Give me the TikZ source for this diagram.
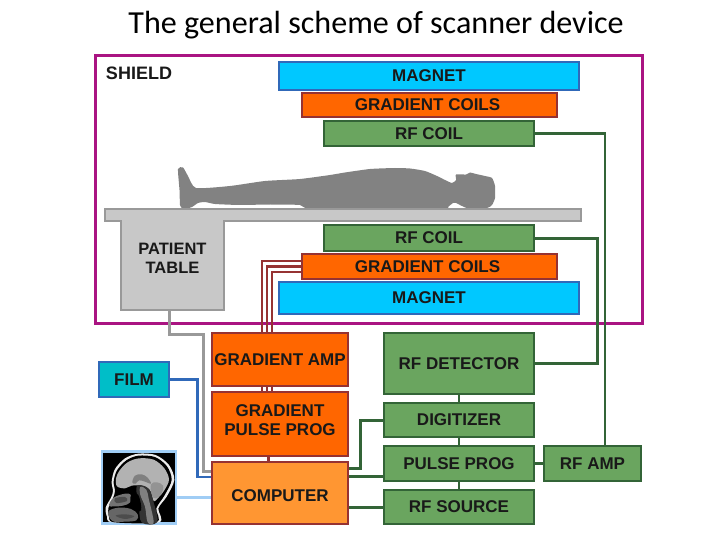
\documentclass[tikz,border=0pt]{standalone}
\usepackage{fontspec}
\setmainfont{Liberation Sans}
\newfontfamily\titlefont{Carlito}
\definecolor{shield-pink}{RGB}{170,20,130}
\definecolor{magnet-blue}{RGB}{0,200,255}
\definecolor{edge-blue}{RGB}{48,105,185}
\definecolor{coil-orange}{RGB}{255,102,0}
\definecolor{comp-orange}{RGB}{255,150,50}
\definecolor{edge-red}{RGB}{150,50,50}
\definecolor{rf-green}{RGB}{106,165,95}
\definecolor{edge-green}{RGB}{51,100,55}
\definecolor{table-gray}{RGB}{200,200,200}
\definecolor{edge-gray}{RGB}{153,153,153}
\definecolor{film-cyan}{RGB}{0,190,200}
\definecolor{frame-blue}{RGB}{160,205,245}
\tikzset{
	lbl/.style={font=\bfseries\fontsize{17}{19}\selectfont,align=center,text=black!90,inner sep=0pt},
	magnetbox/.style={lbl,draw=edge-blue,line width=2.2pt,fill=magnet-blue,minimum width=300pt},
	gradbox/.style={lbl,draw=edge-red,line width=2.5pt,fill=coil-orange},
	rfbox/.style={lbl,draw=edge-green,line width=2.5pt,fill=rf-green},
	redwire/.style={edge-red,line width=2.2pt},
	greenwire/.style={edge-green,line width=2.7pt}
}

\begin{document}
\begin{tikzpicture}[x=1pt,y=-1pt]
	\useasboundingbox (0,0) rectangle (720,540);
	
	\node (title) at (376,25) {\titlefont\fontsize{32.1}{35}\selectfont The general scheme of scanner device};
	\node[draw=shield-pink,line width=3pt,minimum width=547pt,minimum height=267pt,inner sep=0pt] (shield) at (368.5,189.5) {};
	\node[lbl,font=\bfseries\fontsize{18}{20}\selectfont] (shieldlabel) at (139,73) {SHIELD};
	
	% magnet stack
	\node[magnetbox,minimum height=28pt] (magnetA) at (429,76) {MAGNET};
	\node[gradbox,minimum width=255pt,minimum height=24pt] (gradA) at (429.5,105) {GRADIENT COILS\hspace*{4pt}};
	\node[rfbox,minimum width=210pt,minimum height=25pt] (coilA) at (429,133.5) {RF COIL};
	\node[rfbox,minimum width=210pt,minimum height=26pt] (coilB) at (429,238) {RF COIL};
	\node[gradbox,minimum width=255pt,minimum height=25pt] (gradB) at (429.5,266.5) {GRADIENT COILS\hspace*{4pt}};
	\node[magnetbox,minimum height=32pt] (magnetB) at (429,298) {MAGNET};
	
	% patient and table
	\fill[gray!98] plot[smooth cycle,tension=.35] coordinates {
		(178,169) (183,167.5) (188,176) (196,188) (230,186) (265,181) (300,179) (330,175)
		(345,172.5) (370,169) (395,168) (410,168.5) (425,171) (437,176) (445,180) (452,183)
		(456,180) (456,174.5) (466,174.5) (470,172.5) (476,174) (485,176) (492,178) (495,186)
		(495,198) (492,205) (487,208) (470,209) (462,206) (456,203) (453,203) (448,207) (445,209.5)
		(380,209.5) (310,209) (300,205) (270,204.5) (240,205) (215,204) (205,202) (198,203)
		(192,207) (185,209) (182,208) (180,205) (179.5,190)};
	\draw[draw=edge-gray,fill=table-gray,line width=2.5pt] (105,209)--(581,209)--(581,221)--(224,221)
		--(224,310)--(121,310)--(121,221)--(105,221)--cycle;
	\node[lbl,font=\bfseries\fontsize{16.5}{19.5}\selectfont,minimum width=103pt,minimum height=103pt] (table) at (172.5,258.5) {PATIENT\\TABLE};
	
	% control cabinet
	\node[gradbox,minimum width=136pt,minimum height=53pt] (gradamp) at (280,359.5) {GRADIENT AMP};
	\node[gradbox,minimum width=136pt,minimum height=64pt] (gradprog) at (280,424) {GRADIENT\\PULSE PROG\rule[-7pt]{0pt}{7pt}};
	\node[gradbox,fill=comp-orange,minimum width=136pt,minimum height=62pt] (computer) at (280,493) {\rule{0pt}{17pt}COMPUTER};
	\node[lbl,draw=edge-blue,fill=film-cyan,line width=2.5pt,minimum width=70pt,minimum height=35pt] (film) at (134,379.5) {FILM};
	\node[rfbox,minimum width=150pt,minimum height=61pt] (detector) at (459,363.5) {RF DETECTOR};
	\node[rfbox,minimum width=150pt,minimum height=34pt] (digitizer) at (459,420) {DIGITIZER};
	\node[rfbox,minimum width=150pt,minimum height=35pt] (pulseprog) at (459,463.5) {PULSE PROG};
	\node[rfbox,minimum width=150pt,minimum height=34pt] (rfsource) at (459,507) {RF SOURCE};
	\node[rfbox,minimum width=97pt,minimum height=35pt] (rfamp) at (592.5,463.5) {RF AMP};
	
	% head scan
	\node[draw=frame-blue,fill=black,line width=2.5pt,minimum width=74pt,minimum height=72pt,inner sep=0pt] (scan) at (139,487.5) {};
	\begin{scope}[shift={(95,445)},x=.3333pt,y=-.3333pt]
		% skull line
		\fill[gray!15] plot[smooth cycle,tension=.5] coordinates {
			(192,232) (190,190) (215,155) (238,105) (222,60) (182,30) (130,26) (90,40) (60,72) (50,110)
			(54,138) (48,158) (32,188) (36,215) (52,232)};
		\fill[black] plot[smooth cycle,tension=.5] coordinates {
			(185,232) (184,190) (208,152) (230,105) (216,64) (180,36) (130,32) (94,46) (66,76) (56,110)
			(60,138) (54,160) (40,190) (42,215) (58,232)};
		% brain
		\fill[gray!60] plot[smooth cycle,tension=.55] coordinates {
			(66,124) (63,100) (74,76) (98,52) (132,40) (176,44) (208,70) (222,104) (208,136) (192,156)
			(176,168) (164,134) (140,122) (110,122) (90,130)};
		\fill[gray] plot[smooth cycle,tension=.6] coordinates {
			(112,112) (120,92) (140,88) (158,98) (168,116) (150,110) (132,106) (122,116)};
		\fill[gray!85] plot[smooth cycle,tension=.6] coordinates {
			(168,118) (186,112) (204,122) (200,145) (182,160) (170,150)};
		% brain stem and neck
		\fill[black!80] plot[smooth cycle,tension=.6] coordinates {
			(125,124) (160,130) (176,172) (186,232) (140,232) (132,180)};
		\fill[gray] plot[smooth cycle,tension=.6] coordinates {
			(136,126) (154,134) (162,165) (176,232) (158,232) (150,185) (136,150)};
		% face
		\fill[gray!90!black] plot[smooth cycle,tension=.6] coordinates {
			(42,182) (56,158) (90,146) (108,150) (106,172) (84,182) (60,184)};
		\fill[black!70] plot[smooth cycle,tension=.6] coordinates {(60,160) (90,156) (96,168) (64,174)};
		\fill[gray!80!black] plot[smooth cycle,tension=.6] coordinates {
			(40,200) (70,188) (108,192) (128,208) (124,226) (90,230) (52,228)};
		\fill[black!70] plot[smooth cycle,tension=.6] coordinates {(62,212) (90,208) (118,214) (90,222)};
		\fill[black] plot[smooth cycle,tension=.6] coordinates {
			(108,150) (130,150) (138,196) (110,190)};
	\end{scope}
	
	% connectors
	\foreach \dx/\dy in {-18/5.5,-13/0,-8/-5.5}{
		\draw[redwire] ([yshift=\dy pt]gradB.west) -| ([xshift=\dx pt]gradamp.north);
		\draw[redwire] ([xshift=\dx pt]gradamp.south) -- ([xshift=\dx pt]gradprog.north);
	}
	\draw[redwire,line width=3pt] ([xshift=-12pt]gradprog.south) -- ([xshift=-12pt]computer.north);
	
	\draw[edge-gray,line width=3pt] ([xshift=-3.5pt]table.south) |- ++(34,24) |- ([yshift=22pt]computer.west);
	\draw[edge-blue,line width=2.5pt] (film.east) -- ++(27,0) |- ([yshift=16pt]computer.west);
	\draw[frame-blue,line width=3pt] ([yshift=-9.5pt]scan.east) -- ([yshift=-4pt]computer.west);
	
	\draw[greenwire] (coilA.east) -| ([xshift=12.5pt]rfamp.north);
	\draw[greenwire,line width=3pt] (detector.east) -- ++(62,0) |- (coilB.east);
	\draw[greenwire,line width=3pt] ([yshift=25pt]computer.east) -- ++(11,0) |- (digitizer.west);
	\draw[greenwire,line width=3pt] ([yshift=17pt]computer.east) -- ([yshift=-12.5pt]pulseprog.west);
	\draw[greenwire,line width=3pt] (rfsource.west -| computer.east) -- (rfsource.west);
	\draw[greenwire] (detector.south) -- (digitizer.north);
	\draw[greenwire] (digitizer.south) -- (pulseprog.north);
	\draw[greenwire] (pulseprog.south) -- (rfsource.north);
	\draw[greenwire] (pulseprog.east) -- (rfamp.west);
	
\end{tikzpicture}
\end{document}
